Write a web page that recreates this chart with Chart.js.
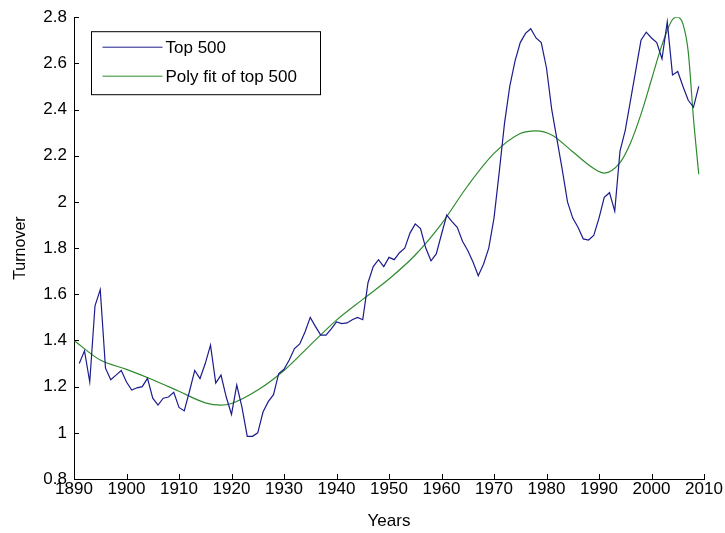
<!DOCTYPE html>
<html>
<head>
<meta charset="utf-8">
<script src="https://cdn.jsdelivr.net/npm/chart.js@4/dist/chart.umd.min.js"></script>
<style>
  html, body { margin: 0; padding: 0; background: #ffffff; }
  #wrap { width: 725px; height: 533px; position: relative; }
</style>
</head>
<body>
<div id="wrap"><canvas id="c" width="725" height="533"></canvas></div>
<script>
// ---- data ----
const topYears = [1891,1892,1893,1894,1895,1896,1897,1898,1899,1900,
  1901,1902,1903,1904,1905,1906,1907,1908,1909,1910,
  1911,1912,1913,1914,1915,1916,1917,1918,1919,1920,
  1921,1922,1923,1924,1925,1926,1927,1928,1929,1930,
  1931,1932,1933,1934,1935,1936,1937,1938,1939,1940,
  1941,1942,1943,1944,1945,1946,1947,1948,1949,1950,
  1951,1952,1953,1954,1955,1956,1957,1958,1959,1960,
  1961,1962,1963,1964,1965,1966,1967,1968,1969,1970,
  1971,1972,1973,1974,1975,1976,1977,1978,1979,1980,
  1981,1982,1983,1984,1985,1986,1987,1988,1989,1990,
  1991,1992,1993,1994,1995,1996,1997,1998,1999,2000,
  2001,2002,2003,2004,2005,2006,2007,2008,2009];
const topValues = [1.30,1.355,1.22,1.55,1.62,1.28,1.23,1.25,1.27,1.22,
  1.185,1.195,1.20,1.236,1.15,1.12,1.15,1.155,1.175,1.11,
  1.095,1.18,1.27,1.235,1.30,1.38,1.215,1.25,1.155,1.08,
  1.207,1.11,0.985,0.985,1.00,1.09,1.135,1.165,1.257,1.275,
  1.315,1.365,1.385,1.437,1.50,1.46,1.423,1.423,1.45,1.48,
  1.473,1.476,1.49,1.50,1.49,1.65,1.72,1.75,1.72,1.76,
  1.75,1.78,1.80,1.865,1.905,1.885,1.80,1.745,1.775,1.86,
  1.943,1.915,1.89,1.83,1.79,1.74,1.68,1.73,1.80,1.93,
  2.13,2.34,2.50,2.61,2.69,2.73,2.75,2.71,2.69,2.58,
  2.40,2.27,2.14,2.00,1.93,1.89,1.84,1.835,1.855,1.93,
  2.02,2.04,1.96,2.22,2.31,2.44,2.57,2.70,2.735,2.71,
  2.69,2.62,2.78,2.55,2.565,2.50,2.44,2.41,2.50];

const fitYears = [1890,1895,1900,1905,1910,1915,1918,1920,1925,1930,
  1935,1940,1945,1950,1955,1960,1965,1970,1975,1978,
  1981,1985,1989,1991,1994,1996,1998,2000,2002,2004,
  2005,2006,2007,2008,2009];
const fitValues = [1.40,1.315,1.275,1.23,1.18,1.13,1.12,1.127,1.185,1.27,
  1.38,1.488,1.578,1.666,1.77,1.905,2.07,2.21,2.296,2.308,
  2.29,2.217,2.145,2.125,2.17,2.255,2.38,2.53,2.68,2.79,
  2.80,2.77,2.65,2.36,2.12];

const xTicks = [1890,1900,1910,1920,1930,1940,1950,1960,1970,1980,1990,2000,2010];
const yTicks = [0.8,1,1.2,1.4,1.6,1.8,2,2.2,2.4,2.6,2.8];

const seriesNames = ['Top 500', 'Poly fit of top 500'];
const seriesColors = ['#1c1c8c', '#2e8b2e'];
const xTitle = 'Years';
const yTitle = 'Turnover';

const FONT = '"Liberation Sans", Arial, sans-serif';

// inward tick marks + legend box, drawn from the chart's scales/datasets
const matlabDecor = {
  id: 'matlabDecor',
  afterDraw(chart) {
    const ctx = chart.ctx;
    const xs = chart.scales.x, ys = chart.scales.y;
    ctx.save();
    ctx.strokeStyle = '#000';
    ctx.lineWidth = 1;
    ctx.beginPath();
    xTicks.forEach(v => {
      const px = Math.round(xs.getPixelForValue(v)) + 0.5;
      ctx.moveTo(px, ys.bottom);
      ctx.lineTo(px, ys.bottom - 5);
    });
    yTicks.forEach(v => {
      const py = Math.round(ys.getPixelForValue(v)) + 0.5;
      ctx.moveTo(xs.left, py);
      ctx.lineTo(xs.left + 5, py);
    });
    ctx.stroke();

    // legend
    const lx = xs.left + 17.5, ly = ys.top + 14.5, lw = 229, lh = 63;
    ctx.fillStyle = '#fff';
    ctx.fillRect(lx, ly, lw, lh);
    ctx.strokeStyle = '#000';
    ctx.strokeRect(lx, ly, lw, lh);
    ctx.font = '17px ' + FONT;
    ctx.textBaseline = 'middle';
    chart.data.datasets.forEach((ds, i) => {
      const yy = ly + 15.5 + i * 29;
      ctx.strokeStyle = ds.borderColor;
      ctx.beginPath();
      ctx.moveTo(lx + 11, yy);
      ctx.lineTo(lx + 71, yy);
      ctx.stroke();
      ctx.fillStyle = '#000';
      ctx.fillText(ds.label, lx + 74, yy + 1);
    });
    ctx.restore();
  }
};

new Chart(document.getElementById('c'), {
  type: 'line',
  data: {
    datasets: [
      {
        label: seriesNames[0],
        data: topYears.map((y, i) => ({x: y, y: topValues[i]})),
        borderColor: seriesColors[0],
        borderWidth: 1.2,
        pointRadius: 0,
        tension: 0,
        fill: false
      },
      {
        label: seriesNames[1],
        data: fitYears.map((y, i) => ({x: y, y: fitValues[i]})),
        borderColor: seriesColors[1],
        borderWidth: 1.2,
        pointRadius: 0,
        cubicInterpolationMode: 'monotone',
        fill: false
      }
    ]
  },
  options: {
    responsive: false,
    animation: false,
    layout: { padding: { top: 17, right: 21, left: 0, bottom: 0 } },
    plugins: {
      legend: { display: false },
      tooltip: { enabled: false }
    },
    scales: {
      x: {
        type: 'linear',
        min: 1890, max: 2010,
        afterBuildTicks: s => { s.ticks = xTicks.map(v => ({value: v})); },
        afterFit: s => { s.height = 54; },
        grid: { display: false, drawTicks: false, tickLength: 0 },
        border: { display: true, color: '#000', width: 1 },
        ticks: {
          color: '#000',
          font: { family: FONT, size: 17 },
          padding: 0,
          maxRotation: 0,
          autoSkip: false,
          callback: v => String(v)
        },
        title: {
          display: true, text: xTitle, color: '#000',
          font: { family: FONT, size: 17 }, padding: { top: 0, bottom: 1 }
        }
      },
      y: {
        type: 'linear',
        min: 0.8, max: 2.8,
        afterBuildTicks: s => { s.ticks = yTicks.map(v => ({value: v})); },
        afterFit: s => { s.width = 74; },
        grid: { display: false, drawTicks: false, tickLength: 0 },
        border: { display: true, color: '#000', width: 1 },
        ticks: {
          color: '#000',
          font: { family: FONT, size: 17 },
          padding: 7,
          autoSkip: false,
          callback: v => String(Math.round(v * 10) / 10)
        },
        title: {
          display: true, text: yTitle, color: '#000',
          font: { family: FONT, size: 16 }, padding: { top: 11, bottom: 0 }
        }
      }
    }
  },
  plugins: [matlabDecor]
});
</script>
</body>
</html>
